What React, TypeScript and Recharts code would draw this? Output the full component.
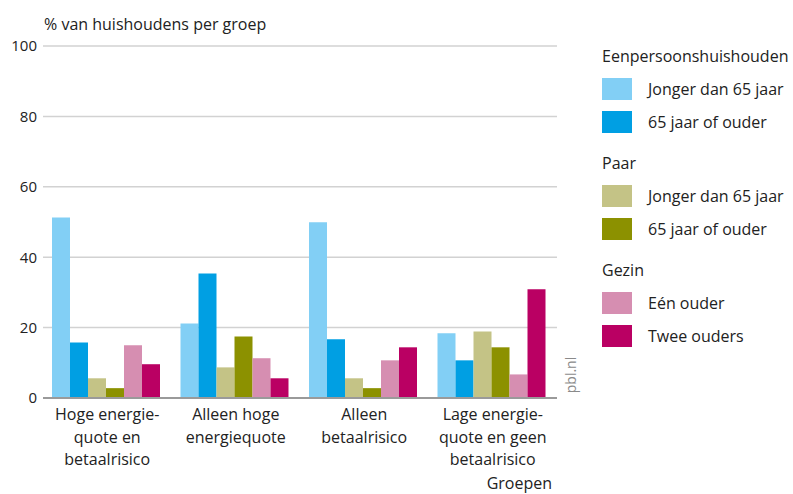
import { BarChart, Bar, XAxis, YAxis, CartesianGrid } from "recharts";

const FONT = "'Open Sans', 'Noto Sans', sans-serif";

const categories = [
  "Hoge energie-\nquote en\nbetaalrisico",
  "Alleen hoge\nenergiequote",
  "Alleen\nbetaalrisico",
  "Lage energie-\nquote en geen\nbetaalrisico",
];

const groups = ["Eenpersoonshuishouden", "Paar", "Gezin"];

const seriesNames = [
  "Jonger dan 65 jaar",
  "65 jaar of ouder",
  "Jonger dan 65 jaar",
  "65 jaar of ouder",
  "Eén ouder",
  "Twee ouders",
];

const seriesGroup = [0, 0, 1, 1, 2, 2];

const COLORS = ["#82cff5", "#009fe3", "#c4c386", "#8c9100", "#d68eb1", "#ba0063"];

// one array per series, same order as categories
const eenJong = [51.3, 21.2, 49.9, 18.4];
const eenOud = [15.8, 35.4, 16.7, 10.7];
const paarJong = [5.6, 8.7, 5.6, 18.9];
const paarOud = [2.8, 17.5, 2.8, 14.4];
const eenOuder = [15.0, 11.3, 10.7, 6.7];
const tweeOuders = [9.6, 5.6, 14.4, 30.9];

const yTicks = [0, 20, 40, 60, 80, 100];

const seriesValues = [eenJong, eenOud, paarJong, paarOud, eenOuder, tweeOuders];

const data = categories.map((name, i) => {
  const row: Record<string, number | string> = { name };
  seriesValues.forEach((vals, s) => {
    row["s" + s] = vals[i];
  });
  return row;
});

const CategoryTick = (props: any) => {
  const { x, y, payload } = props;
  const lines = String(payload.value).split("\n");
  return (
    <text x={x} y={y} textAnchor="middle" fill="#222" fontSize={16} fontFamily={FONT}>
      {lines.map((line, i) => (
        <tspan key={i} x={x} dy={i === 0 ? 20 : 22.5}>
          {line}
        </tspan>
      ))}
    </text>
  );
};

const LegendBlock = () => (
  <div style={{ position: "absolute", left: 602, top: 44, fontFamily: FONT, fontSize: 16, color: "#222" }}>
    {groups.map((g, gi) => (
      <div key={g} style={{ marginBottom: gi < groups.length - 1 ? 18 : 0 }}>
        <div style={{ height: 24, lineHeight: "24px", marginBottom: 10 }}>{g}</div>
        {seriesNames.map((n, si) =>
          seriesGroup[si] === gi ? (
            <div key={si} style={{ display: "flex", alignItems: "center", height: 22, marginBottom: 11 }}>
              <div style={{ width: 30, height: 22, background: COLORS[si], marginRight: 16, flexShrink: 0 }} />
              <span style={{ whiteSpace: "nowrap" }}>{n}</span>
            </div>
          ) : null
        )}
      </div>
    ))}
  </div>
);

export default function App() {
  return (
    <div style={{ position: "absolute", left: 0, top: 0, width: 793, height: 494, background: "#fff" }}>
      <BarChart
        width={793}
        height={494}
        data={data}
        margin={{ top: 46, right: 236, bottom: 0, left: 0 }}
        barCategoryGap={9}
        barGap={0}
      >
        <CartesianGrid vertical={false} stroke="#d2d2d2" strokeWidth={1.5} />
        <XAxis
          dataKey="name"
          height={96}
          interval={0}
          tickLine={false}
          tickSize={0}
          axisLine={{ stroke: "#9a9a9a", strokeWidth: 2 }}
          tick={<CategoryTick />}
          label={{
            value: "Groepen",
            position: "insideBottomRight",
            offset: 5,
            fill: "#222",
            fontSize: 16,
            fontFamily: FONT,
          }}
        />
        <YAxis
          width={43}
          domain={[0, 100]}
          ticks={yTicks}
          interval={0}
          tickLine={false}
          axisLine={false}
          tickSize={4}
          tickMargin={2}
          tick={{ fill: "#222", fontSize: 15, fontFamily: FONT }}
          label={{
            value: "% van huishoudens per groep",
            position: "insideTopLeft",
            content: (p: any) => (
              <text
                x={p.viewBox.x + p.viewBox.width + 1}
                y={p.viewBox.y - 16}
                fill="#222"
                fontSize={16}
                fontFamily={FONT}
              >
                % van huishoudens per groep
              </text>
            ),
          }}
        />
        {seriesValues.map((_, s) => (
          <Bar key={s} dataKey={"s" + s} name={seriesNames[s]} fill={COLORS[s]} isAnimationActive={false} />
        ))}
        <text
          x={576}
          y={375}
          transform="rotate(-90 576 375)"
          textAnchor="middle"
          fill="#8a8a8a"
          fontSize={14}
          fontFamily={FONT}
        >
          pbl.nl
        </text>
      </BarChart>
      <LegendBlock />
    </div>
  );
}
